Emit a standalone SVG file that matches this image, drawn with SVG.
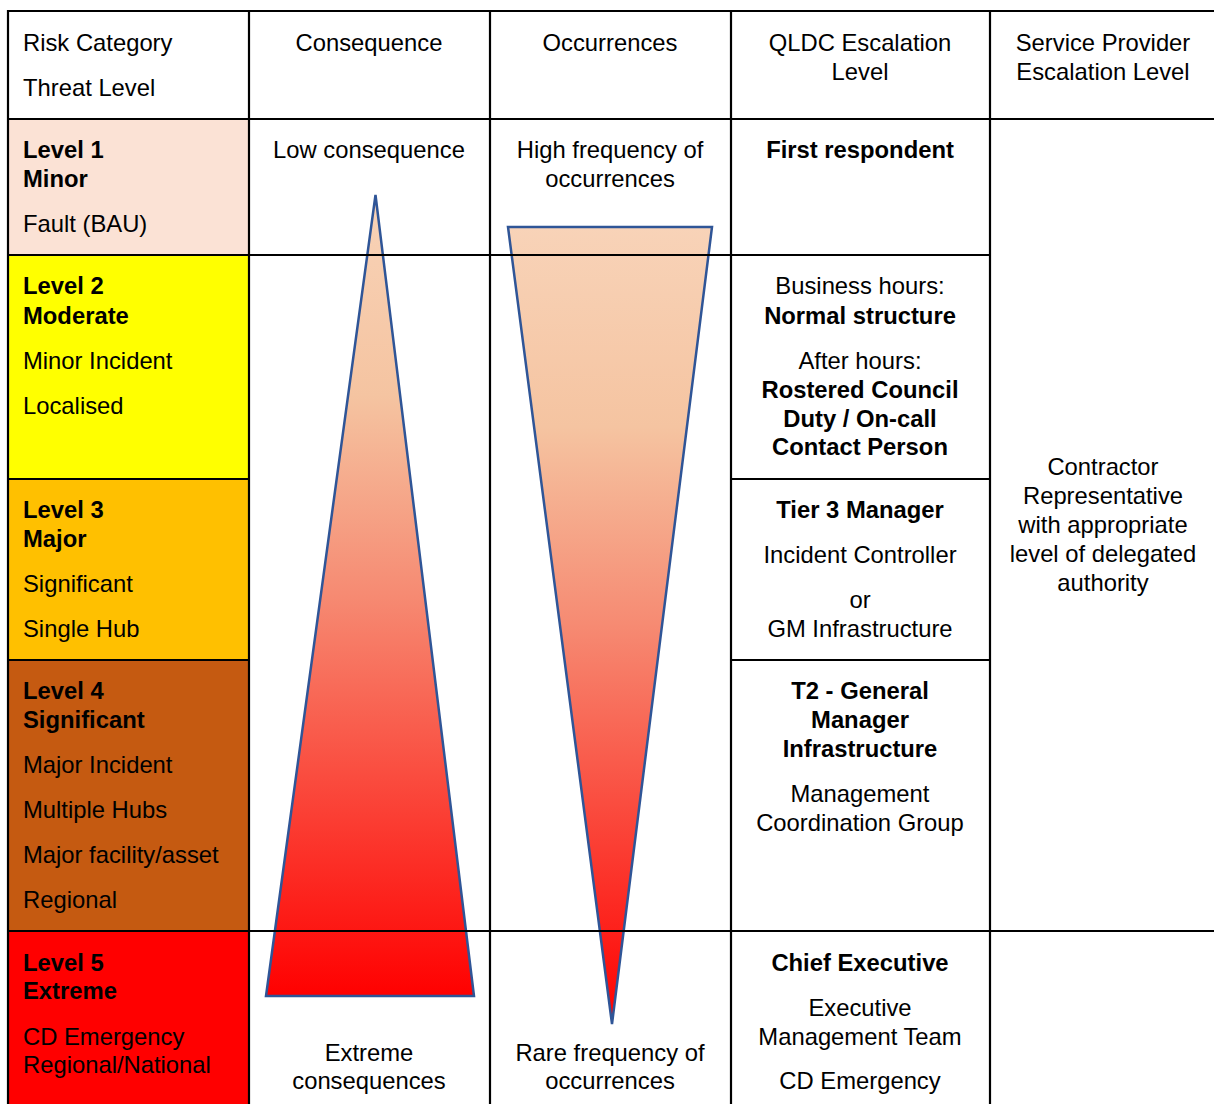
<svg xmlns="http://www.w3.org/2000/svg" width="1214" height="1104" viewBox="0 0 1214 1104">
  <style>
    text { font-family: "Liberation Sans", Arial, sans-serif; font-size: 23.8px; fill: #000; }
    .b { font-weight: bold; }
    .c { text-anchor: middle; }
    .grid line { stroke: #000; stroke-width: 2.2; }
    .tri { stroke: #2F5597; stroke-width: 2.5; stroke-linejoin: miter; }
  </style>
  <defs>
    <linearGradient id="gUp" gradientUnits="userSpaceOnUse" x1="0" y1="195" x2="0" y2="997">
      <stop offset="0" stop-color="#F8D3B8"/>
      <stop offset="0.25" stop-color="#F5C4A1"/>
      <stop offset="0.5" stop-color="#F68A72"/>
      <stop offset="1" stop-color="#FF0000"/>
    </linearGradient>
    <linearGradient id="gDown" gradientUnits="userSpaceOnUse" x1="0" y1="227" x2="0" y2="1025">
      <stop offset="0" stop-color="#F8D3B8"/>
      <stop offset="0.25" stop-color="#F5C4A1"/>
      <stop offset="0.5" stop-color="#F68A72"/>
      <stop offset="1" stop-color="#FF0000"/>
    </linearGradient>
  </defs>

  <rect width="1214" height="1104" fill="#fff"/>

  <!-- level colour bands -->
  <g id="bands">
    <rect x="8" y="119" width="241" height="136" fill="#FBE2D5"/>
    <rect x="8" y="255" width="241" height="224" fill="#FFFF00"/>
    <rect x="8" y="479" width="241" height="181" fill="#FFC000"/>
    <rect x="8" y="660" width="241" height="271" fill="#C55A11"/>
    <rect x="8" y="931" width="241" height="173" fill="#FF0000"/>
  </g>

  <!-- consequence / occurrence wedges -->
  <g id="consequence-wedge">
    <polygon class="tri" points="375.5,195 474,996 266,996" fill="url(#gUp)"/>
  </g>
  <g id="occurrence-wedge">
    <polygon class="tri" points="508,227 712,227 612,1024" fill="url(#gDown)"/>
  </g>

  <!-- table rules -->
  <g id="connectors" class="grid">
    <line x1="8" y1="11" x2="1214" y2="11"/>
    <line x1="8" y1="119" x2="1214" y2="119"/>
    <line x1="8" y1="255" x2="990" y2="255"/>
    <line x1="8" y1="479" x2="249" y2="479"/>
    <line x1="731" y1="479" x2="990" y2="479"/>
    <line x1="8" y1="660" x2="249" y2="660"/>
    <line x1="731" y1="660" x2="990" y2="660"/>
    <line x1="8" y1="931" x2="1214" y2="931"/>
    <line x1="8" y1="10" x2="8" y2="1104"/>
    <line x1="249" y1="10" x2="249" y2="1104"/>
    <line x1="490" y1="10" x2="490" y2="1104"/>
    <line x1="731" y1="10" x2="731" y2="1104"/>
    <line x1="990" y1="10" x2="990" y2="1104"/>
  </g>

  <!-- header row -->
  <g id="header">
    <text x="23" y="51">Risk Category</text>
    <text x="23" y="96">Threat Level</text>
    <text class="c" x="369" y="51">Consequence</text>
    <text class="c" x="610" y="51">Occurrences</text>
    <text class="c" x="860" y="51">QLDC Escalation</text>
    <text class="c" x="860" y="80">Level</text>
    <text class="c" x="1103" y="51">Service Provider</text>
    <text class="c" x="1103" y="80">Escalation Level</text>
  </g>

  <!-- level 1 -->
  <g id="level1">
    <text class="b" x="23" y="158">Level 1</text>
    <text class="b" x="23" y="187">Minor</text>
    <text x="23" y="232">Fault (BAU)</text>
  </g>
  <g id="consequence-low"><text class="c" x="369" y="158">Low consequence</text></g>
  <g id="occurrence-high">
    <text class="c" x="610" y="158">High frequency of</text>
    <text class="c" x="610" y="187">occurrences</text>
  </g>
  <g id="qldc-first"><text class="c b" x="860" y="158">First respondent</text></g>

  <!-- level 2 -->
  <g id="level2">
    <text class="b" x="23" y="294">Level 2</text>
    <text class="b" x="23" y="324">Moderate</text>
    <text x="23" y="369">Minor Incident</text>
    <text x="23" y="414">Localised</text>
  </g>
  <g id="qldc-normal">
    <text class="c" x="860" y="294">Business hours:</text>
    <text class="c b" x="860" y="324">Normal structure</text>
    <text class="c" x="860" y="369">After hours:</text>
    <text class="c b" x="860" y="398">Rostered Council</text>
    <text class="c b" x="860" y="427">Duty / On-call</text>
    <text class="c b" x="860" y="455">Contact Person</text>
  </g>

  <!-- level 3 -->
  <g id="level3">
    <text class="b" x="23" y="518">Level 3</text>
    <text class="b" x="23" y="547">Major</text>
    <text x="23" y="592">Significant</text>
    <text x="23" y="637">Single Hub</text>
  </g>
  <g id="qldc-tier3">
    <text class="c b" x="860" y="518">Tier 3 Manager</text>
    <text class="c" x="860" y="563">Incident Controller</text>
    <text class="c" x="860" y="608">or</text>
    <text class="c" x="860" y="637">GM Infrastructure</text>
  </g>

  <!-- level 4 -->
  <g id="level4">
    <text class="b" x="23" y="699">Level 4</text>
    <text class="b" x="23" y="728">Significant</text>
    <text x="23" y="773">Major Incident</text>
    <text x="23" y="818">Multiple Hubs</text>
    <text x="23" y="863">Major facility/asset</text>
    <text x="23" y="908">Regional</text>
  </g>
  <g id="qldc-t2">
    <text class="c b" x="860" y="699">T2 - General</text>
    <text class="c b" x="860" y="728">Manager</text>
    <text class="c b" x="860" y="757">Infrastructure</text>
    <text class="c" x="860" y="802">Management</text>
    <text class="c" x="860" y="831">Coordination Group</text>
  </g>

  <!-- service provider -->
  <g id="contractor">
    <text class="c" x="1103" y="475">Contractor</text>
    <text class="c" x="1103" y="504">Representative</text>
    <text class="c" x="1103" y="533">with appropriate</text>
    <text class="c" x="1103" y="562">level of delegated</text>
    <text class="c" x="1103" y="591">authority</text>
  </g>

  <!-- level 5 -->
  <g id="level5">
    <text class="b" x="23" y="971">Level 5</text>
    <text class="b" x="23" y="999">Extreme</text>
    <text x="23" y="1045">CD Emergency</text>
    <text x="23" y="1073">Regional/National</text>
  </g>
  <g id="consequence-extreme">
    <text class="c" x="369" y="1061">Extreme</text>
    <text class="c" x="369" y="1089">consequences</text>
  </g>
  <g id="occurrence-rare">
    <text class="c" x="610" y="1061">Rare frequency of</text>
    <text class="c" x="610" y="1089">occurrences</text>
  </g>
  <g id="qldc-chief">
    <text class="c b" x="860" y="971">Chief Executive</text>
    <text class="c" x="860" y="1016">Executive</text>
    <text class="c" x="860" y="1045">Management Team</text>
    <text class="c" x="860" y="1089">CD Emergency</text>
  </g>
</svg>
